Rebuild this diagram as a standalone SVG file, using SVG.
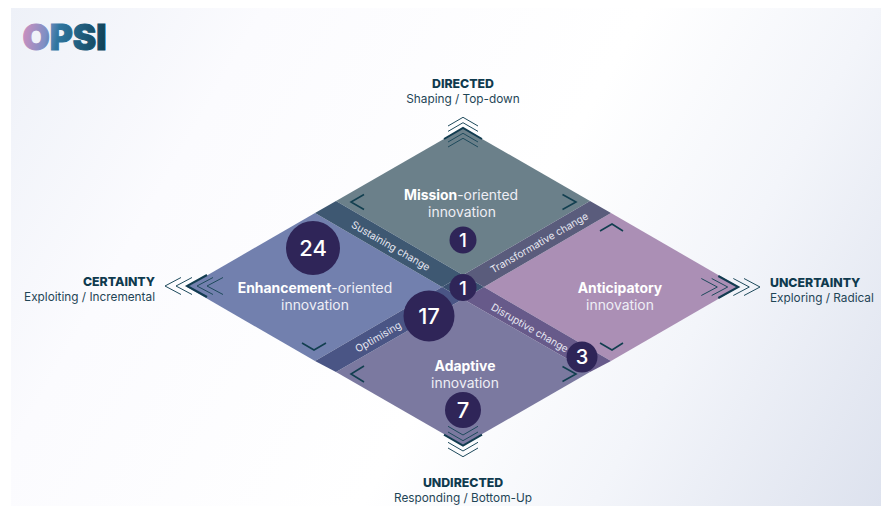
<svg xmlns="http://www.w3.org/2000/svg" width="884" height="506" viewBox="0 0 884 506">
<style>
text{font-family:"Inter","Liberation Sans",sans-serif}
.t{font-size:13.9px;font-weight:400;fill:#eeeef5;text-anchor:middle}
.t tspan.b{font-weight:700;fill:#fff}
.band{font-size:10.2px;font-weight:400;fill:#e8e8f2;text-anchor:middle}
.num{font-weight:500;fill:#fff;text-anchor:middle}
.circ{fill:#2f2558}
.h{font-size:12.3px;font-weight:800;fill:#0f3a4e}
.s{font-size:11.8px;fill:#1f4556}
.thin{fill:none;stroke:#1e4a5c;stroke-width:1}
.thick{fill:none;stroke:#123c50;stroke-width:2}
.ch{fill:none;stroke:#123f50;stroke-width:1.6}
</style>
<defs>
<linearGradient id="bg" gradientUnits="userSpaceOnUse" x1="11" y1="8" x2="881" y2="506">
<stop offset="0" stop-color="#eef1f8"/><stop offset=".22" stop-color="#fbfbfe"/><stop offset=".55" stop-color="#fff"/><stop offset=".75" stop-color="#f3f5fa"/><stop offset="1" stop-color="#dde2ee"/>
</linearGradient>
<linearGradient id="logo" gradientUnits="userSpaceOnUse" x1="22" y1="30" x2="107" y2="44">
<stop offset="0" stop-color="#cf8fbf"/><stop offset=".28" stop-color="#7f8fc4"/><stop offset=".42" stop-color="#2f769f"/><stop offset="1" stop-color="#0f3f55"/>
</linearGradient>
</defs>
<rect x="11" y="8" width="870" height="498" fill="url(#bg)"/>
<g id="logo-opsi"><text x="22.5" y="49.5" font-size="35" font-weight="900" fill="url(#logo)" stroke="url(#logo)" stroke-width="1" textLength="84" lengthAdjust="spacingAndGlyphs">OPSI</text></g>
<g id="quadrant-mission"><polygon points="463,128 590,201 463,275 336,201" fill="#6b808a"/><text class="t" x="461" y="200"><tspan class="b">Mission</tspan>-oriented</text><text class="t" x="462" y="217">innovation</text></g>
<g id="quadrant-enhancement"><polygon points="315,213 442,287 315,361 187,287" fill="#7280ae"/><text class="t" x="315" y="293"><tspan class="b">Enhancement</tspan>-oriented</text><text class="t" x="315" y="310">innovation</text></g>
<g id="quadrant-anticipatory"><polygon points="611,213 484,287 611,361 739,287" fill="#ab8fb5"/><text class="t" x="620" y="293"><tspan class="b">Anticipatory</tspan></text><text class="t" x="620" y="310">innovation</text></g>
<g id="quadrant-adaptive"><polygon points="463,299 590,372 463,445 336,372" fill="#7b79a0"/><text class="t" x="465" y="371"><tspan class="b">Adaptive</tspan></text><text class="t" x="465" y="388">innovation</text></g>
<g id="connectors">
<polygon points="315,213 336,201 463,275 442,287" fill="#3e5872"/>
<polygon points="611,213 590,201 463,275 484,287" fill="#5a5c7c"/>
<polygon points="315,361 336,372 463,299 442,287" fill="#4a5585"/>
<polygon points="611,361 590,372 463,299 484,287" fill="#675a8a"/>
<polygon points="463,275 484,287 463,299 442,287" fill="#3a5070"/>
<polyline class="thin" points="448,126 463,117.3 478,126"/>
<polyline class="thin" points="448,131.4 463,122.7 478,131.4"/>
<polyline class="thick" points="444,139 463,128 482,139"/>
<polyline class="thin" points="448,142 463,133.3 478,142"/>
<polyline class="thin" points="448,147 463,138.3 478,147"/>
<polyline class="thin" points="448,426.3 463,435 478,426.3"/>
<polyline class="thin" points="448,432 463,440.7 478,432"/>
<polyline class="thick" points="444,434.7 463,445.7 482,434.7"/>
<polyline class="thin" points="448,442.3 463,451 478,442.3"/>
<polyline class="thin" points="448,448 463,456.7 478,448"/>
<polyline class="thin" points="181,277.5 165,286 181,294.5"/>
<polyline class="thin" points="192,277.5 176,286 192,294.5"/>
<polyline class="thick" points="207,275 187,286 207,297"/>
<polyline class="thin" points="213,277.5 197,286 213,294.5"/>
<polyline class="thin" points="223,277.5 207,286 223,294.5"/>
<polyline class="thin" points="701.3,278.5 717.3,287 701.3,295.5"/>
<polyline class="thin" points="711.7,278.5 727.7,287 711.7,295.5"/>
<polyline class="thick" points="718.3,276 738.3,287 718.3,298"/>
<polyline class="thin" points="733.3,278.5 749.3,287 733.3,295.5"/>
<polyline class="thin" points="744,278.5 760,287 744,295.5"/>
<polyline class="ch" points="364,194.5 351,202 364,209.5"/>
<polyline class="ch" points="562.5,194.5 576,202 562.5,209.5"/>
<polyline class="ch" points="364,366 351,374 364,382"/>
<polyline class="ch" points="562.5,366.5 576,374 562.5,381.5"/>
<polyline class="ch" points="302,343 314,350 326,343"/>
<polyline class="ch" points="600,231 612,224 623,231"/>
<polyline class="ch" points="600,343 612,350 623,343"/>
<text class="band" transform="translate(389,249) rotate(30)">Sustaining change</text>
<text class="band" transform="translate(541,246) rotate(-30)">Transformative change</text>
<text class="band" transform="translate(380,340) rotate(-30)">Optimising</text>
<text class="band" transform="translate(528,331) rotate(30)">Disruptive change</text>
</g>
<g id="count-24"><circle class="circ" cx="313" cy="248" r="27"/><text class="num" x="313" y="256" font-size="22">24</text></g>
<g id="count-1-mission"><circle class="circ" cx="463" cy="240" r="13.5"/><text class="num" x="463" y="247" font-size="19">1</text></g>
<g id="count-1-centre"><circle class="circ" cx="463" cy="287.5" r="13.5"/><text class="num" x="463" y="294.5" font-size="19">1</text></g>
<g id="count-17"><circle class="circ" cx="429" cy="316" r="25.5"/><text class="num" x="429" y="324" font-size="22">17</text></g>
<g id="count-3"><circle class="circ" cx="582" cy="357" r="15.5"/><text class="num" x="582" y="364" font-size="20">3</text></g>
<g id="count-7"><circle class="circ" cx="463" cy="410" r="18"/><text class="num" x="463" y="418" font-size="22">7</text></g>
<g id="label-directed"><text class="h" x="463" y="88" text-anchor="middle">DIRECTED</text><text class="s" x="463" y="103" text-anchor="middle">Shaping / Top-down</text></g>
<g id="label-undirected"><text class="h" x="463" y="487" text-anchor="middle">UNDIRECTED</text><text class="s" x="463" y="502" text-anchor="middle">Responding / Bottom-Up</text></g>
<g id="label-certainty"><text class="h" x="155" y="286" text-anchor="end">CERTAINTY</text><text class="s" x="155" y="301" text-anchor="end">Exploiting / Incremental</text></g>
<g id="label-uncertainty"><text class="h" x="770" y="287">UNCERTAINTY</text><text class="s" x="770" y="302">Exploring / Radical</text></g>
</svg>
